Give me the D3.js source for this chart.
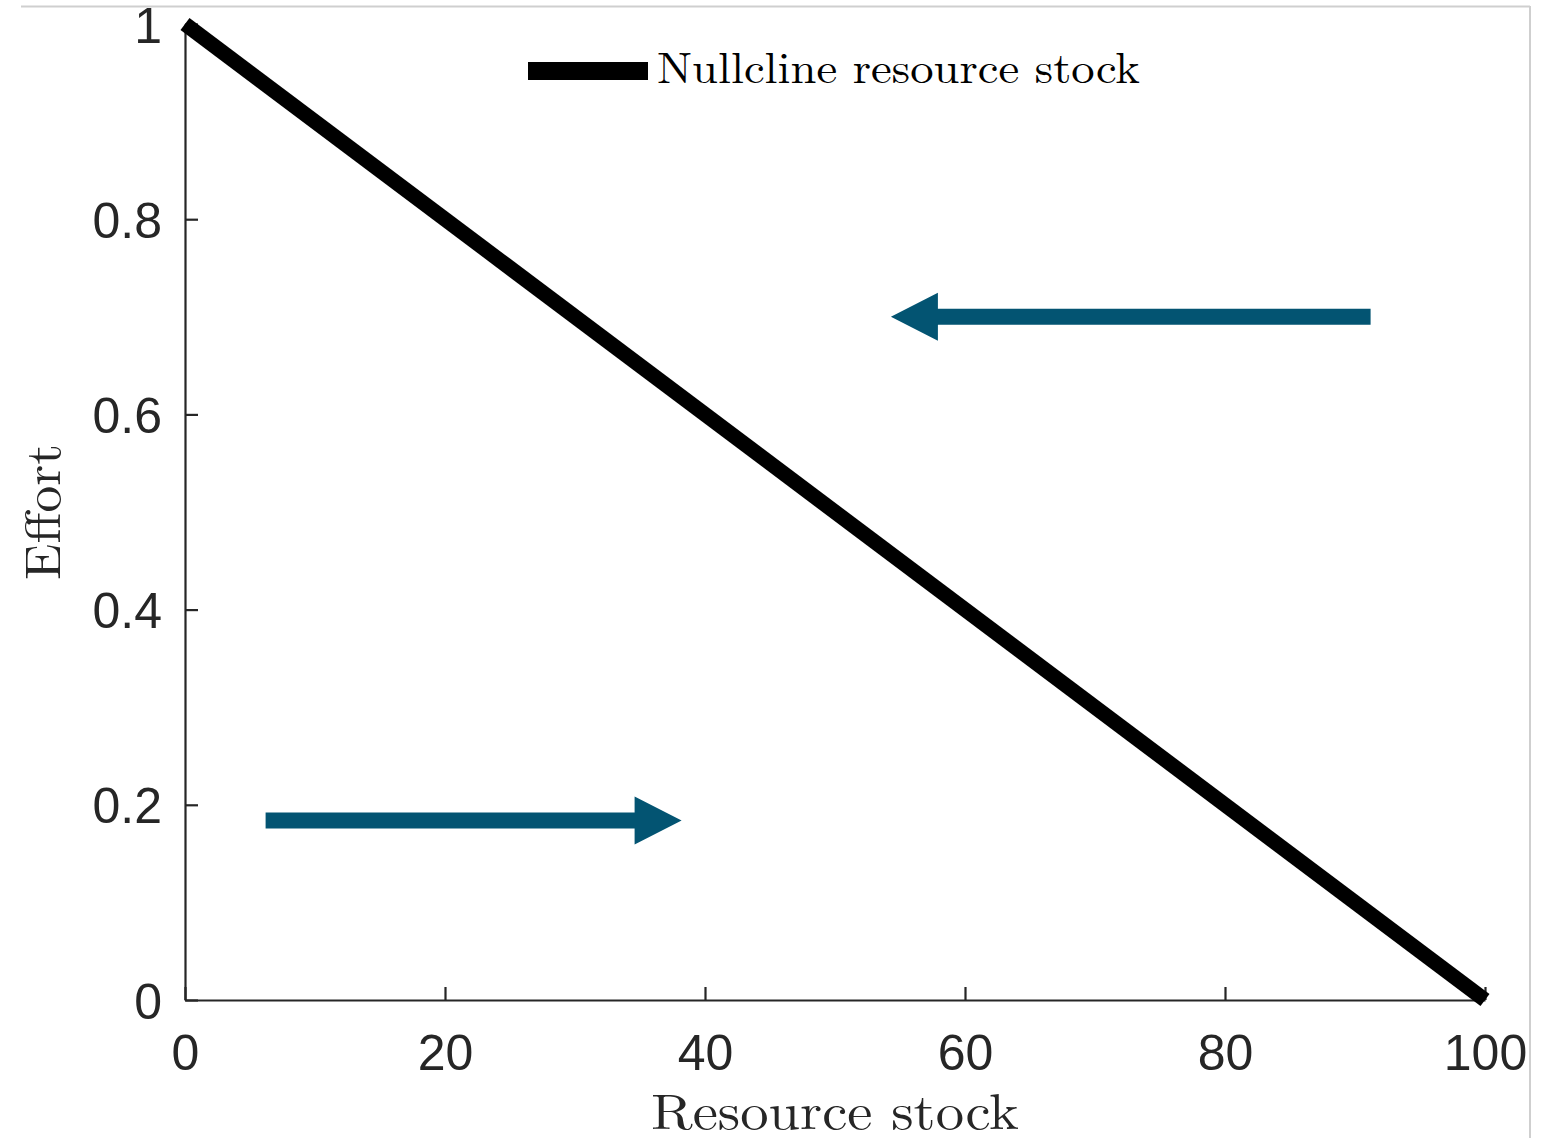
<!DOCTYPE html>
<html>
<head>
<meta charset="utf-8">
<script src="https://cdn.jsdelivr.net/npm/d3@7/dist/d3.min.js"></script>
<style>
  html, body { margin: 0; padding: 0; background: #fff; }
  svg { display: block; }
</style>
</head>
<body>
<svg id="chart" width="1548" height="1138"></svg>
<script>
// Nullcline of the resource stock: effort falls linearly from 1 at zero stock to 0 at full stock
const nullclineStock = [0, 100];
const nullclineEffort = [1, 0];

// Direction-of-motion arrows (stock start -> stock end, at a given effort)
const arrowStart = [6.2, 91.2];
const arrowEnd = [38.2, 54.3];
const arrowEffort = [0.184, 0.70];

const xTicks = [0, 20, 40, 60, 80, 100];
const yTicks = [0, 0.2, 0.4, 0.6, 0.8, 1];
const yTickLabels = ["0", "0.2", "0.4", "0.6", "0.8", "1"];

const svg = d3.select("#chart");
const plotLeft = 185, plotRight = 1485, plotTop = 24, plotBottom = 1000;

const x = d3.scaleLinear().domain([0, 100]).range([plotLeft, plotRight]);
const y = d3.scaleLinear().domain([0, 1]).range([plotBottom, plotTop]);

const axisColor = "#262626";
const tickFont = "'Liberation Sans', Arial, sans-serif";
const serif = "'Latin Modern Roman', 'CMU Serif', 'DejaVu Serif', 'Liberation Serif', serif";

// figure frame (light grey edges top and right)
svg.append("line").attr("x1", 21).attr("x2", 1530).attr("y1", 6.5).attr("y2", 6.5)
  .attr("stroke", "#cfcfcf").attr("stroke-width", 2);
svg.append("line").attr("x1", 1530).attr("x2", 1530).attr("y1", 6).attr("y2", 1138)
  .attr("stroke", "#cfcfcf").attr("stroke-width", 2);

// x axis with inward ticks
const xAxis = d3.axisBottom(x).tickValues(xTicks).tickSizeInner(-13).tickSizeOuter(0)
  .tickPadding(34).tickFormat(d3.format("d"));
const gx = svg.append("g").attr("transform", `translate(0,${plotBottom})`).call(xAxis);
gx.select(".domain").attr("stroke", axisColor).attr("stroke-width", 2.2);
gx.selectAll(".tick line").attr("stroke", axisColor).attr("stroke-width", 2.2);
gx.selectAll(".tick text").attr("fill", axisColor).style("font-family", tickFont)
  .style("font-size", "50px").attr("dy", "0.71em");

// y axis with inward ticks
const yAxis = d3.axisLeft(y).tickValues(yTicks).tickSizeInner(-13).tickSizeOuter(0)
  .tickPadding(23).tickFormat((d, i) => yTickLabels[i]);
const gy = svg.append("g").attr("transform", `translate(${plotLeft},0)`).call(yAxis);
gy.select(".domain").attr("stroke", axisColor).attr("stroke-width", 2.2);
gy.selectAll(".tick line").attr("stroke", axisColor).attr("stroke-width", 2.2);
gy.selectAll(".tick text").attr("fill", axisColor).style("font-family", tickFont)
  .style("font-size", "50px").attr("dy", "0.36em");

// nullcline
const pts = nullclineStock.map((s, i) => [s, nullclineEffort[i]]);
svg.append("path")
  .attr("d", d3.line().x(d => x(d[0])).y(d => y(d[1]))(pts))
  .attr("fill", "none").attr("stroke", "#000").attr("stroke-width", 15)
  .attr("stroke-linecap", "butt");

// arrows
const arrowColor = "#035472";
const shaft = 16, headLen = 47, headHalf = 24;
arrowStart.forEach((s, i) => {
  const x0 = x(s), x1 = x(arrowEnd[i]), yy = y(arrowEffort[i]);
  const dir = Math.sign(x1 - x0);
  const xb = x1 - dir * headLen;
  svg.append("path")
    .attr("d", `M${x0},${yy - shaft / 2} L${xb},${yy - shaft / 2} L${xb},${yy - headHalf} L${x1},${yy} L${xb},${yy + headHalf} L${xb},${yy + shaft / 2} L${x0},${yy + shaft / 2} Z`)
    .attr("fill", arrowColor);
});

// legend
svg.append("line").attr("x1", 528).attr("x2", 648).attr("y1", 71).attr("y2", 71)
  .attr("stroke", "#000").attr("stroke-width", 18);
svg.append("text").attr("x", 657).attr("y", 83)
  .style("font-family", serif).style("font-size", "44px").attr("fill", "#000")
  .attr("textLength", 483).attr("lengthAdjust", "spacingAndGlyphs")
  .text("Nullcline resource stock");

// axis titles
svg.append("text").attr("x", 835).attr("y", 1129).attr("text-anchor", "middle")
  .style("font-family", serif).style("font-size", "50px").attr("fill", "#262626")
  .attr("textLength", 368).attr("lengthAdjust", "spacingAndGlyphs")
  .text("Resource stock");
svg.append("text").attr("transform", "translate(60,512) rotate(-90)").attr("text-anchor", "middle")
  .style("font-family", serif).style("font-size", "50px").attr("fill", "#262626")
  .attr("textLength", 136).attr("lengthAdjust", "spacingAndGlyphs")
  .text("Effort");
</script>
</body>
</html>
